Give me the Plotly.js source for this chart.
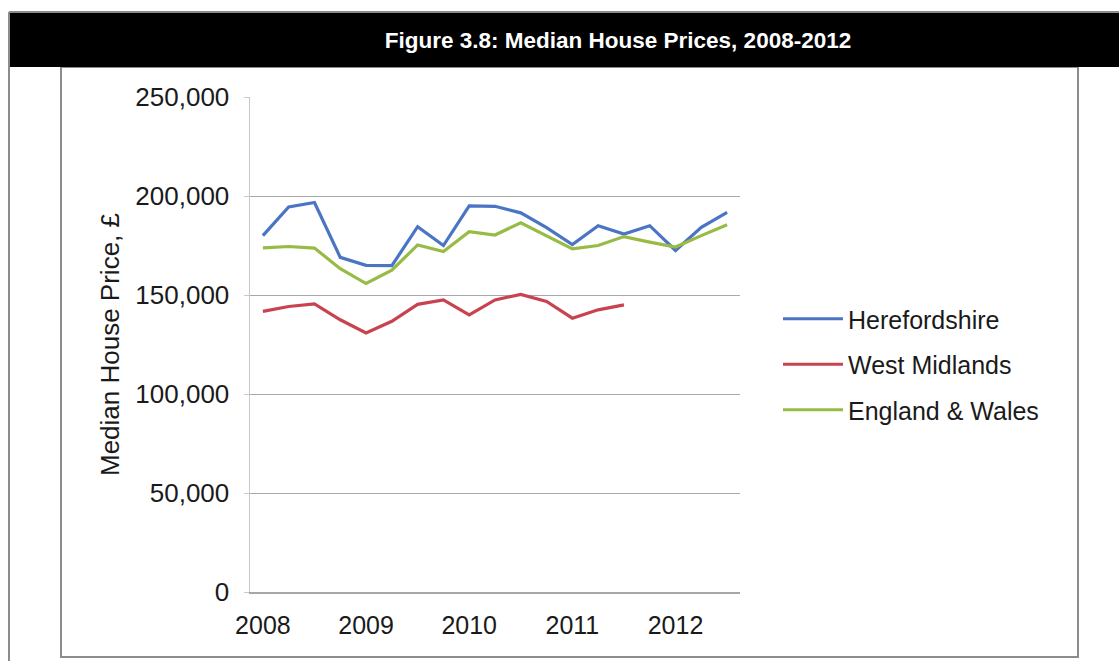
<!DOCTYPE html>
<html>
<head>
<meta charset="utf-8">
<script src="https://cdn.plot.ly/plotly-3.0.1.min.js"></script>
<style>html,body{margin:0;padding:0;background:#fff;}#chart{width:1119px;height:661px;}</style>
</head>
<body>
<div id="chart"></div>
<script>
// ---- data ----
const quarters = [2008.00, 2008.25, 2008.50, 2008.75, 2009.00, 2009.25, 2009.50, 2009.75,
                  2010.00, 2010.25, 2010.50, 2010.75, 2011.00, 2011.25, 2011.50, 2011.75,
                  2012.00, 2012.25, 2012.50];
const herefordshire = [180000, 194500, 196700, 169000, 165000, 164800, 184500, 175000, 195000,
                       194800, 191500, 184000, 175500, 185000, 180800, 185000, 172500, 184200, 191700];
const westMidlands = [141700, 144200, 145500, 137500, 130800, 136700, 145300, 147500, 140000,
                      147500, 150300, 146700, 138300, 142500, 145000];
const englandWales = [173800, 174500, 173700, 163300, 155800, 162500, 175300, 172000, 182000,
                      180300, 186500, 180000, 173300, 175000, 179500, 176700, 174200, 180000, 185500];
const seriesNames = ["Herefordshire", "West Midlands", "England & Wales"];
const yearTicks = [2008, 2009, 2010, 2011, 2012];
const yearLabels = ["2008", "2009", "2010", "2011", "2012"];
const chartTitle = "Figure 3.8: Median House Prices, 2008-2012";
const yTitle = "Median House Price, £";

// ---- layout geometry ----
const W = 1119, H = 661;
const M = {l: 250, r: 379, t: 97, b: 69};
const PW = W - M.l - M.r, PH = H - M.t - M.b;
const px = x => (x - M.l) / PW;
const py = y => (H - M.b - y) / PH;

const FONT = "Liberation Sans, Arial, sans-serif";
const colors = ["#4a74c4", "#c8434f", "#98bb45"];

const traces = [
  {x: quarters, y: herefordshire, name: seriesNames[0], legendgroup: "a"},
  {x: quarters.slice(0, westMidlands.length), y: westMidlands, name: seriesNames[1], legendgroup: "b"},
  {x: quarters, y: englandWales, name: seriesNames[2], legendgroup: "c"}
].map((t, i) => Object.assign(t, {
  type: "scatter", mode: "lines",
  line: {color: colors[i], width: 3.2},
  hoverinfo: "x+y+name"
}));

const layout = {
  width: W, height: H,
  margin: M,
  paper_bgcolor: "#ffffff",
  plot_bgcolor: "#ffffff",
  font: {family: FONT, size: 25, color: "#1a1a1a"},
  title: {
    text: "<b>" + chartTitle + "</b>",
    font: {family: FONT, size: 22.5, color: "#ffffff"},
    xref: "container", yref: "container",
    x: 618 / W, y: 1 - 40 / H, xanchor: "center", yanchor: "middle"
  },
  xaxis: {
    range: [2007.875, 2012.625],
    tickvals: yearTicks, ticktext: yearLabels,
    ticks: "", showgrid: false, zeroline: false,
    showline: true, linecolor: "#a6a6a6", linewidth: 1.5,
    ticklabelstandoff: 10,
    tickfont: {size: 25, color: "#1a1a1a"}
  },
  yaxis: {
    range: [0, 250000], dtick: 50000, tickformat: ",d",
    showgrid: true, gridcolor: "#a9a9a9", gridwidth: 1,
    zeroline: false,
    showline: true, linecolor: "#c8c8c8", linewidth: 1.5,
    ticks: "outside", ticklen: 5, tickcolor: "#c8c8c8",
    ticklabelstandoff: 9,
    automargin: true,
    tickfont: {size: 26, color: "#1a1a1a"},
    title: {text: yTitle, standoff: 8, font: {size: 26, color: "#1a1a1a"}}
  },
  showlegend: true,
  legend: {
    x: px(778), y: py(296), xanchor: "left", yanchor: "top",
    bgcolor: "rgba(0,0,0,0)",
    font: {size: 25, color: "#1a1a1a"},
    itemwidth: 60,
    traceorder: "grouped",
    tracegroupgap: 10
  },
  shapes: [
    // chart box
    {type: "rect", xref: "paper", yref: "paper", layer: "below",
     x0: px(61), x1: px(1078), y0: py(67), y1: py(657),
     line: {color: "#8c8c8c", width: 2}, fillcolor: "rgba(0,0,0,0)"},
    // outer frame lines
    {type: "line", xref: "paper", yref: "paper", x0: px(9), x1: px(9), y0: py(12), y1: py(661),
     line: {color: "#8c8c8c", width: 2}},
    {type: "line", xref: "paper", yref: "paper", x0: px(9), x1: px(1119), y0: py(12), y1: py(12),
     line: {color: "#8c8c8c", width: 2}},
    // black header
    {type: "rect", xref: "paper", yref: "paper", layer: "below",
     x0: px(10), x1: px(1119), y0: py(67), y1: py(13),
     line: {width: 0}, fillcolor: "#000000"}
  ]
};

Plotly.newPlot("chart", traces, layout, {displayModeBar: false, staticPlot: true});
</script>
</body>
</html>
